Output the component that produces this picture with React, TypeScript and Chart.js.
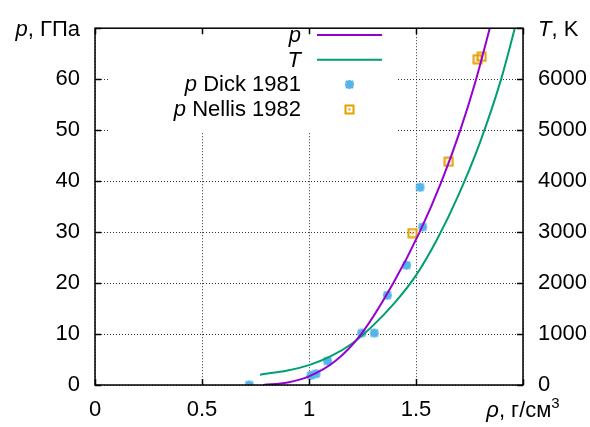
import React, { useEffect, useRef } from 'react';
import { Chart, registerables } from 'chart.js';

Chart.register(...registerables);

// ---- data ----
const pCurveX = [0.786, 0.9, 1.0, 1.12, 1.244, 1.394, 1.517, 1.62, 1.707, 1.781, 1.848];
const pCurveY = [0, 0.5, 1.7, 4.6, 10, 20, 30, 40, 50, 60, 70.5];
const tCurveX = [0.771, 0.9, 1.0, 1.1, 1.2, 1.3, 1.4, 1.5, 1.6, 1.7, 1.8, 1.9, 1.965];
const tCurveY = [203, 285, 390, 560, 810, 1170, 1610, 2150, 2870, 3740, 4770, 6030, 7050];
const dickX = [0.721, 1.009, 1.033, 1.087, 1.246, 1.305, 1.366, 1.456, 1.519, 1.531];
const dickP = [0, 1.9, 2.2, 4.7, 10.2, 10.2, 17.6, 23.5, 38.8, 31.0];
const nellisX = [1.484, 1.653, 1.788, 1.807];
const nellisP = [29.8, 43.8, 63.9, 64.4];
const seriesLabels = ['p', 'T', 'p Dick 1981', 'p Nellis 1982'];
const xTickValues = [0, 0.5, 1, 1.5, 2];
const pTickValues = [0, 10, 20, 30, 40, 50, 60, 70];
const tTickValues = [0, 1000, 2000, 3000, 4000, 5000, 6000, 7000];

const PURPLE = '#9400D3';
const GREEN = '#009E73';
const BLUE = '#56B4E9';
const ORANGE = '#E69F00';
const FAMILY = '"Liberation Sans", Arial, sans-serif';
const FS = 22;

function makeSquareMarker(): HTMLCanvasElement {
  const c = document.createElement('canvas');
  c.width = 11;
  c.height = 11;
  const g = c.getContext('2d')!;
  g.strokeStyle = ORANGE;
  g.lineWidth = 2;
  g.strokeRect(1.5, 1.5, 8, 8);
  g.fillStyle = ORANGE;
  g.fillRect(4.5, 4.5, 2, 2);
  return c;
}

function makeStarMarker(): HTMLCanvasElement {
  const c = document.createElement('canvas');
  c.width = 11;
  c.height = 11;
  const g = c.getContext('2d')!;
  g.strokeStyle = BLUE;
  g.lineWidth = 2.5;
  g.beginPath();
  g.moveTo(1, 5.5); g.lineTo(10, 5.5);
  g.moveTo(5.5, 1); g.lineTo(5.5, 10);
  g.moveTo(2, 2); g.lineTo(9, 9);
  g.moveTo(2, 9); g.lineTo(9, 2);
  g.stroke();
  return c;
}

function drawMixed(ctx: CanvasRenderingContext2D, italic: string, rest: string, x: number, y: number, align: 'left' | 'right' | 'center', sup?: string) {
  ctx.save();
  ctx.textBaseline = 'alphabetic';
  ctx.fillStyle = '#000';
  const fi = `italic ${FS}px ${FAMILY}`;
  const fr = `${FS}px ${FAMILY}`;
  const fs = `${Math.round(FS * 0.68)}px ${FAMILY}`;
  ctx.font = fi; const wi = ctx.measureText(italic).width;
  ctx.font = fr; const wr = ctx.measureText(rest).width;
  ctx.font = fs; const ws = sup ? ctx.measureText(sup).width : 0;
  const total = wi + wr + ws;
  let sx = x;
  if (align === 'right') sx = x - total;
  if (align === 'center') sx = x - total / 2;
  ctx.textAlign = 'left';
  ctx.font = fi; ctx.fillText(italic, sx, y);
  ctx.font = fr; ctx.fillText(rest, sx + wi, y);
  if (sup) { ctx.font = fs; ctx.fillText(sup, sx + wi + wr, y - 9); }
  ctx.restore();
}

const decorPlugin = {
  id: 'gnuplotDecor',
  beforeDatasetsDraw(chart: any) {
    const ctx = chart.ctx as CanvasRenderingContext2D;
    const a = chart.chartArea;
    // opaque key box
    ctx.save();
    ctx.fillStyle = '#fff';
    ctx.fillRect(a.left + 15, a.top, 287, 104);
    ctx.restore();
  },
  afterDraw(chart: any) {
    const ctx = chart.ctx as CanvasRenderingContext2D;
    const a = chart.chartArea;
    const xs = chart.scales.x, ys = chart.scales.y, y2 = chart.scales.y2;
    ctx.save();
    // tick marks (inward, mirrored)
    ctx.strokeStyle = '#000';
    ctx.lineWidth = 1.5;
    ctx.beginPath();
    xTickValues.forEach(v => {
      const px = Math.round(xs.getPixelForValue(v)) + 0.5;
      ctx.moveTo(px, a.bottom); ctx.lineTo(px, a.bottom - 6);
      ctx.moveTo(px, a.top); ctx.lineTo(px, a.top + 6);
    });
    pTickValues.forEach(v => {
      const py = Math.round(ys.getPixelForValue(v)) + 0.5;
      ctx.moveTo(a.left, py); ctx.lineTo(a.left + 6, py);
    });
    tTickValues.forEach(v => {
      const py = Math.round(y2.getPixelForValue(v)) + 0.5;
      ctx.moveTo(a.right, py); ctx.lineTo(a.right - 6, py);
    });
    ctx.stroke();
    // border
    ctx.lineWidth = 1.5;
    ctx.strokeRect(a.left, a.top, a.right - a.left, a.bottom - a.top);
    ctx.restore();

    // key
    const keyRight = a.left + 206;
    const sampleL = a.left + 222, sampleR = a.left + 287;
    const rowY = [35, 59.7, 84.4, 109];
    seriesLabels.forEach((lab, i) => {
      const sp = lab.indexOf(' ');
      const it = sp < 0 ? lab : lab.slice(0, sp);
      const rest = sp < 0 ? '' : lab.slice(sp);
      drawMixed(ctx, it, rest, keyRight, rowY[i] + 7, 'right');
      const cx = (sampleL + sampleR) / 2;
      if (i < 2) {
        ctx.save();
        ctx.strokeStyle = i === 0 ? PURPLE : GREEN;
        ctx.lineWidth = 2;
        ctx.beginPath();
        ctx.moveTo(sampleL, rowY[i]); ctx.lineTo(sampleR, rowY[i]);
        ctx.stroke();
        ctx.restore();
      } else {
        const m = i === 2 ? makeStarMarker() : makeSquareMarker();
        ctx.drawImage(m, Math.round(cx - 5.5), Math.round(rowY[i] - 5.5));
      }
    });

    // axis titles in place of last tick labels
    const topY = ys.getPixelForValue(70);
    drawMixed(ctx, 'p', ', ГПа', a.left - 15, topY + 8, 'right');
    drawMixed(ctx, 'T', ', K', a.right + 15, topY + 8, 'left');
    const xr = xs.getPixelForValue(2);
    drawMixed(ctx, 'ρ', ', г/см', xr, a.bottom + 32, 'center', '3');
  },
};

export default function App() {
  const ref = useRef<HTMLCanvasElement | null>(null);
  useEffect(() => {
    if (!ref.current) return;
    const square = makeSquareMarker();
    const star = makeStarMarker();
    const tickFont = { family: FAMILY, size: FS };
    const gridCommon = { color: 'rgba(0,0,0,0.8)', lineWidth: 1, drawTicks: false, tickLength: 0 };
    const chart = new Chart(ref.current, {
      type: 'scatter',
      data: {
        datasets: [
          {
            label: seriesLabels[0],
            data: pCurveX.map((x, i) => ({ x, y: pCurveY[i] })),
            showLine: true,
            borderColor: PURPLE,
            borderWidth: 2,
            pointRadius: 0,
            cubicInterpolationMode: 'monotone',
            yAxisID: 'y',
          },
          {
            label: seriesLabels[1],
            data: tCurveX.map((x, i) => ({ x, y: tCurveY[i] })),
            showLine: true,
            borderColor: GREEN,
            borderWidth: 2,
            pointRadius: 0,
            cubicInterpolationMode: 'monotone',
            yAxisID: 'y2',
          },
          {
            label: seriesLabels[2],
            data: dickX.map((x, i) => ({ x, y: dickP[i] })),
            showLine: false,
            pointStyle: star,
            pointRadius: 5,
            borderColor: BLUE,
            backgroundColor: BLUE,
            yAxisID: 'y',
          },
          {
            label: seriesLabels[3],
            data: nellisX.map((x, i) => ({ x, y: nellisP[i] })),
            showLine: false,
            pointStyle: square,
            pointRadius: 5,
            borderColor: ORANGE,
            backgroundColor: ORANGE,
            yAxisID: 'y',
          },
        ],
      } as any,
      options: {
        animation: false,
        responsive: false,
        devicePixelRatio: 1,
        layout: { padding: { top: 16, left: 0, right: 0, bottom: 0 } },
        plugins: { legend: { display: false }, tooltip: { enabled: false } },
        events: [],
        scales: {
          x: {
            type: 'linear',
            min: 0,
            max: 2,
            afterBuildTicks: (s: any) => { s.ticks = xTickValues.map(v => ({ value: v })); },
            ticks: {
              font: tickFont,
              color: '#000',
              padding: 12,
              maxRotation: 0,
              callback: (v: any) => (v === 2 ? '' : String(v)),
            },
            grid: { ...gridCommon },
            border: { display: false, dash: [1, 2] },
            afterFit: (s: any) => { s.height = 42; },
          },
          y: {
            type: 'linear',
            position: 'left',
            min: 0,
            max: 70,
            afterBuildTicks: (s: any) => { s.ticks = pTickValues.map(v => ({ value: v })); },
            ticks: {
              font: tickFont,
              color: '#000',
              padding: 15,
              callback: (v: any) => (v === 70 ? '' : String(v)),
            },
            grid: { ...gridCommon },
            border: { display: false, dash: [1, 2] },
            afterFit: (s: any) => { s.width = 95; },
          },
          y2: {
            type: 'linear',
            position: 'right',
            min: 0,
            max: 7000,
            afterBuildTicks: (s: any) => { s.ticks = tTickValues.map(v => ({ value: v })); },
            ticks: {
              font: tickFont,
              color: '#000',
              padding: 15,
              callback: (v: any) => (v === 7000 ? '' : String(v)),
            },
            grid: { display: false, drawOnChartArea: false, drawTicks: false, tickLength: 0 },
            border: { display: false },
            afterFit: (s: any) => { s.width = 67; },
          },
        },
      } as any,
      plugins: [decorPlugin],
    });
    return () => chart.destroy();
  }, []);
  return (
    <div style={{ position: 'fixed', left: 0, top: 0, width: 590, height: 427, background: '#fff' }}>
      <canvas ref={ref} width={590} height={427} style={{ display: 'block' }} />
    </div>
  );
}
